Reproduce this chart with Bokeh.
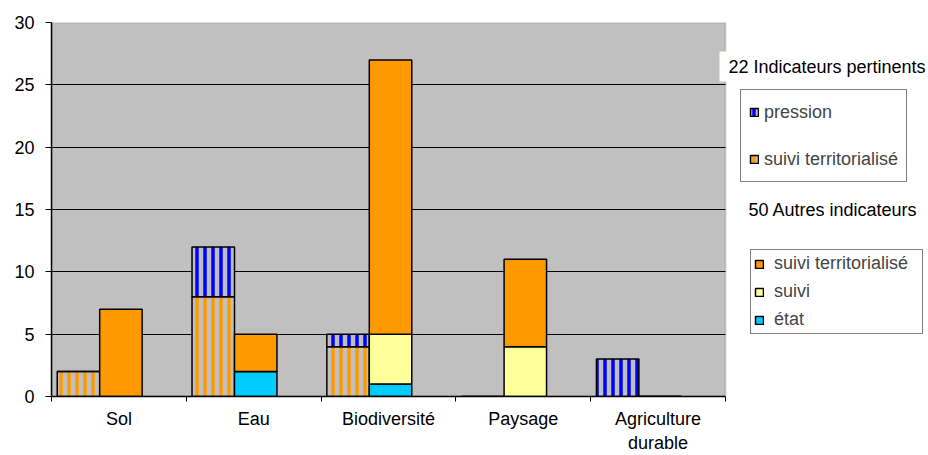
import numpy as np
from bokeh.plotting import figure
from bokeh.models import FixedTicker, Legend, LegendItem, Label, Range1d, BoxAnnotation
from bokeh.embed import file_html
from bokeh.resources import INLINE

# ---- data ----
categories = ["Sol", "Eau", "Biodiversité", "Paysage", "Agriculture\ndurable"]
# 22 indicateurs pertinents
pert_suivi_territorialise = [2, 8, 4, 0, 0]
pert_pression = [0, 4, 1, 0, 3]
# 50 autres indicateurs
autres_etat = [0, 2, 1, 0, 0]
autres_suivi = [0, 0, 4, 4, 0]
autres_suivi_territorialise = [7, 3, 22, 7, 0]
y_ticks = [0, 5, 10, 15, 20, 25, 30]

FONT = "Liberation Sans"
FS = "18px"
GRAY = "#C0C0C0"
ORANGE = "#FF9900"
BLUE = "#0000FF"
YELLOW = "#FFFF99"
CYAN = "#00CCFF"

W_FIG, H_FIG = 928, 455
LEFT, TOP, BOTTOM = 51, 22, 398
FRAME_BOTTOM = 396  # actual frame bottom after axis layout
PLOT_W = 674  # width of the grey plot area in px
n = len(categories)
x_end = n * (W_FIG - LEFT) / PLOT_W

p = figure(width=W_FIG, height=H_FIG, x_range=Range1d(0, x_end), y_range=Range1d(0, 30),
           output_backend="svg", toolbar_location=None,
           min_border_left=LEFT, min_border_right=0, min_border_top=TOP,
           min_border_bottom=H_FIG - BOTTOM)
p.background_fill_color = "white"
p.border_fill_color = "white"
p.outline_line_color = None

# grey plot area
p.add_layout(BoxAnnotation(left=0, right=n, bottom=0, top=30, fill_color=GRAY, fill_alpha=1,
                           line_color="#808080", line_width=2, level="image"))

p.xgrid.visible = False
p.ygrid.ticker = FixedTicker(ticks=y_ticks[1:-1])
p.ygrid.grid_line_color = "black"
p.ygrid.grid_line_width = 1
try:
    p.ygrid.cross_bounds = (0, n)
except Exception:
    p.ygrid.visible = False
    p.segment(x0=0, x1=n, y0=y_ticks[1:-1], y1=y_ticks[1:-1], line_color="black",
              line_width=1, level="underlay")

# y axis
p.yaxis.ticker = FixedTicker(ticks=y_ticks, minor_ticks=[])
p.yaxis.axis_line_color = "black"
p.yaxis.axis_line_width = 1.5
p.yaxis.major_tick_line_color = "black"
p.yaxis.major_tick_out = 6
p.yaxis.major_tick_in = 0
p.yaxis.major_label_standoff = 11
p.yaxis.major_label_text_font = FONT
p.yaxis.major_label_text_font_size = FS
p.yaxis.major_label_text_color = "black"

# x axis
idx = np.arange(n)
centers = list(idx + 0.5)
p.xaxis.bounds = (0, n)
p.xaxis.ticker = FixedTicker(ticks=centers, minor_ticks=list(range(n + 1)))
p.xaxis.major_label_overrides = {c: lab for c, lab in zip(centers, categories)}
p.xaxis.major_tick_line_color = None
p.xaxis.major_tick_out = 0
p.xaxis.major_tick_in = 0
p.xaxis.minor_tick_line_color = "black"
p.xaxis.minor_tick_out = 5
p.xaxis.minor_tick_in = 0
p.xaxis.axis_line_color = "black"
p.xaxis.axis_line_width = 1.5
p.xaxis.major_label_standoff = 7
p.xaxis.major_label_text_font = FONT
p.xaxis.major_label_text_font_size = FS
p.xaxis.major_label_text_color = "black"

W = 0.315
xl = idx + 0.20
xr = idx + 0.515

def stack(vals_list):
    bottoms, tops = [], []
    acc = np.zeros(n)
    for v in vals_list:
        v = np.array(v, dtype=float)
        bottoms.append(acc.copy())
        acc = acc + v
        tops.append(acc.copy())
    return bottoms, tops

common = dict(line_color="black", line_width=1.5)

(lb1, lb2), (lt1, lt2) = stack([pert_suivi_territorialise, pert_pression])
r_pst = p.vbar(x=xl, width=W, bottom=lb1, top=lt1, fill_color=GRAY,
               hatch_pattern="|", hatch_color=ORANGE, hatch_scale=8, hatch_weight=3.5, **common)
r_pp = p.vbar(x=xl, width=W, bottom=lb2, top=lt2, fill_color=GRAY,
              hatch_pattern="|", hatch_color=BLUE, hatch_scale=8, hatch_weight=3.5, **common)

(rb1, rb2, rb3), (rt1, rt2, rt3) = stack([autres_etat, autres_suivi, autres_suivi_territorialise])
r_ae = p.vbar(x=xr, width=W, bottom=rb1, top=rt1, fill_color=CYAN, **common)
r_as = p.vbar(x=xr, width=W, bottom=rb2, top=rt2, fill_color=YELLOW, **common)
r_ast = p.vbar(x=xr, width=W, bottom=rb3, top=rt3, fill_color=ORANGE, **common)

# legends (positions relative to the frame's bottom-left corner)
leg1 = Legend(items=[LegendItem(label="pression", renderers=[r_pp]),
                     LegendItem(label="suivi territorialisé", renderers=[r_pst])],
              location=(740 - LEFT, FRAME_BOTTOM - 182), orientation="vertical",
              padding=8, spacing=19, label_height=28, glyph_width=10, glyph_height=10,
              label_standoff=5, margin=0,
              border_line_color="black", border_line_width=1,
              background_fill_color="white", background_fill_alpha=1,
              label_text_font=FONT, label_text_font_size=FS)
leg2 = Legend(items=[LegendItem(label="suivi territorialisé", renderers=[r_ast]),
                     LegendItem(label="suivi", renderers=[r_as]),
                     LegendItem(label="état", renderers=[r_ae])],
              location=(750 - LEFT, FRAME_BOTTOM - 334), orientation="vertical",
              padding=3, spacing=7, label_height=18, glyph_width=10, glyph_height=10,
              label_standoff=10, label_width=145, margin=0,
              border_line_color="black", border_line_width=1,
              background_fill_color="white", background_fill_alpha=1,
              label_text_font=FONT, label_text_font_size=FS)
p.add_layout(leg1)
p.add_layout(leg2)

t1 = Label(x=719 - LEFT, y=FRAME_BOTTOM - 66, x_units="screen", y_units="screen",
           text="22 Indicateurs pertinents", text_font=FONT, text_font_size=FS,
           text_baseline="middle", text_align="left", text_color="black",
           background_fill_color="white", background_fill_alpha=1,
           padding=dict(left=9, right=10, top=5, bottom=5))
t2 = Label(x=748 - LEFT, y=FRAME_BOTTOM - 209, x_units="screen", y_units="screen",
           text="50 Autres indicateurs", text_font=FONT, text_font_size=FS,
           text_baseline="middle", text_align="left", text_color="black")
p.add_layout(t1)
p.add_layout(t2)

open("out.html", "w").write(file_html(p, INLINE))
